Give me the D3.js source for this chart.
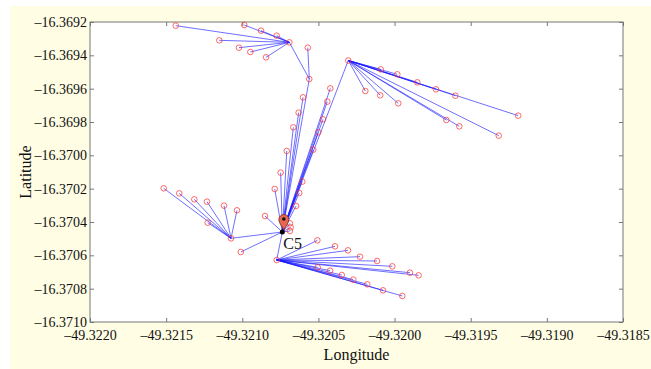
<!DOCTYPE html>
<html>
<head>
    <meta charset="utf-8">
    <script src="https://d3js.org/d3.v7.min.js"></script>
    <style>
        body { margin: 0; background: #ffffff; }
        text { font-family: "Liberation Serif", "Times New Roman", serif; fill: #111; }
    </style>
</head>
<body>
    <svg id="chart" width="651" height="369"></svg>
    <script>
        // ---- data (lon, lat) ----
        var c5 = [-49.320737, -16.370460];

        var hubA = [-49.320691, -16.369322];
        var leavesA = [
            [-49.321437, -16.369222], [-49.320987, -16.369218], [-49.320877, -16.369252],
            [-49.320774, -16.369282], [-49.321151, -16.369310], [-49.321022, -16.369354],
            [-49.320947, -16.369380], [-49.320844, -16.369412]
        ];
        var nodeE = [-49.320570, -16.369354];
        var nodeF = [-49.320560, -16.369542];
        var chainLeft = [
            [-49.320601, -16.369652], [-49.320630, -16.369744], [-49.320665, -16.369832],
            [-49.320708, -16.369974], [-49.320748, -16.370104], [-49.320787, -16.370202],
            [-49.320851, -16.370364]
        ];

        var hubB = [-49.320304, -16.369431];
        var leavesB = [
            [-49.320091, -16.369484], [-49.319982, -16.369514], [-49.319851, -16.369562],
            [-49.319728, -16.369604], [-49.319601, -16.369642], [-49.319188, -16.369762],
            [-49.320192, -16.369614], [-49.320094, -16.369640], [-49.319976, -16.369688],
            [-49.319660, -16.369788], [-49.319575, -16.369826], [-49.319316, -16.369882]
        ];
        var chainRight = [
            [-49.320422, -16.369598], [-49.320442, -16.369678], [-49.320470, -16.369784],
            [-49.320501, -16.369862], [-49.320534, -16.369966], [-49.320606, -16.370158],
            [-49.320626, -16.370226], [-49.320647, -16.370304]
        ];
        var nearC5 = [[-49.320687, -16.370408], [-49.320682, -16.370432], [-49.320687, -16.370454]];

        var hubC = [-49.321074, -16.370498];
        var leavesC = [
            [-49.321516, -16.370198], [-49.321414, -16.370228], [-49.321315, -16.370264],
            [-49.321232, -16.370278], [-49.321120, -16.370302], [-49.321035, -16.370330],
            [-49.321227, -16.370404]
        ];
        var nodeG = [-49.321010, -16.370580];

        var hubD = [-49.320774, -16.370628];
        var leavesD = [
            [-49.320507, -16.370510], [-49.320391, -16.370546], [-49.320306, -16.370570],
            [-49.320227, -16.370608], [-49.320115, -16.370634], [-49.320015, -16.370666],
            [-49.319899, -16.370704], [-49.319842, -16.370720], [-49.320505, -16.370672],
            [-49.320424, -16.370692], [-49.320347, -16.370718], [-49.320271, -16.370746],
            [-49.320179, -16.370774], [-49.320076, -16.370810], [-49.319949, -16.370844]
        ];

        var xTicks = [-49.3220, -49.3215, -49.3210, -49.3205, -49.3200, -49.3195, -49.3190, -49.3185];
        var yTicks = [-16.3710, -16.3708, -16.3706, -16.3704, -16.3702, -16.3700, -16.3698, -16.3696, -16.3694, -16.3692];

        // ---- edges ----
        var edges = [];
        leavesA.forEach(d => edges.push([d, hubA]));
        edges.push([hubA, nodeF], [nodeE, nodeF], [nodeF, c5]);
        chainLeft.forEach(d => edges.push([d, c5]));
        edges.push([hubB, c5]);
        leavesB.forEach(d => edges.push([d, hubB]));
        chainRight.forEach(d => edges.push([d, c5]));
        nearC5.forEach(d => edges.push([d, c5]));
        leavesC.forEach(d => edges.push([d, hubC]));
        edges.push([hubC, c5], [nodeG, c5]);
        leavesD.forEach(d => edges.push([d, hubD]));
        edges.push([hubD, c5]);

        var nodes = [].concat([hubA], leavesA, [nodeE, nodeF], chainLeft, [hubB], leavesB,
            chainRight, nearC5, [hubC], leavesC, [nodeG], [hubD], leavesD);

        // ---- layout ----
        var margin = { top: 22, right: 28, bottom: 47, left: 90 },
            width = 651 - margin.left - margin.right,
            height = 369 - margin.top - margin.bottom;

        var svg = d3.select("#chart");

        svg.append("rect")
            .attr("x", 10).attr("y", 6)
            .attr("width", 641).attr("height", 363)
            .attr("fill", "#fffde4");

        var g = svg.append("g")
            .attr("transform", "translate(" + margin.left + "," + margin.top + ")");

        g.append("rect")
            .attr("width", width).attr("height", height)
            .attr("fill", "#ffffff");

        var x = d3.scaleLinear().domain([-49.3220, -49.3185]).range([0, width]);
        var y = d3.scaleLinear().domain([-16.3710, -16.3692]).range([height, 0]);

        var fmt = v => d3.format(".4f")(v).replace("-", "\u2013").replace("\u2212", "\u2013");

        function styleAxis(sel, showText) {
            sel.select(".domain").remove();
            sel.selectAll("line").attr("stroke", "#777");
            sel.selectAll("text")
                .style("font-size", "14px")
                .style("font-family", "'Liberation Serif', serif")
                .attr("fill", "#111");
            if (!showText) sel.selectAll("text").remove();
        }

        g.append("g").attr("transform", "translate(0," + height + ")")
            .call(d3.axisBottom(x).tickValues(xTicks).tickFormat(fmt).tickSize(-4).tickPadding(8))
            .call(s => styleAxis(s, true));
        g.append("g")
            .call(d3.axisTop(x).tickValues(xTicks).tickSize(-4))
            .call(s => styleAxis(s, false));
        g.append("g")
            .call(d3.axisLeft(y).tickValues(yTicks).tickFormat(fmt).tickSize(-4).tickPadding(3))
            .call(s => styleAxis(s, true));
        g.append("g").attr("transform", "translate(" + width + ",0)")
            .call(d3.axisRight(y).tickValues(yTicks).tickSize(-4))
            .call(s => styleAxis(s, false));

        g.append("rect")
            .attr("width", width).attr("height", height)
            .attr("fill", "none").attr("stroke", "#777").attr("stroke-width", 1);

        // edges
        g.append("g").selectAll("line")
            .data(edges).enter().append("line")
            .attr("x1", d => x(d[0][0])).attr("y1", d => y(d[0][1]))
            .attr("x2", d => x(d[1][0])).attr("y2", d => y(d[1][1]))
            .attr("stroke", "#1a1aff").attr("stroke-width", 0.9).attr("stroke-opacity", 0.7);

        // nodes
        g.append("g").selectAll("circle")
            .data(nodes).enter().append("circle")
            .attr("cx", d => x(d[0])).attr("cy", d => y(d[1]))
            .attr("r", 2.8)
            .attr("fill", "none").attr("stroke", "#ff3030").attr("stroke-width", 0.9).attr("stroke-opacity", 0.8);

        // C5 marker
        var cx = x(c5[0]), cy = y(c5[1]);
        g.append("circle").attr("cx", cx).attr("cy", cy).attr("r", 2.5).attr("fill", "#000");
        var pin = g.append("g").attr("transform", "translate(" + (cx + 1.5) + "," + (cy - 2) + ")");
        pin.append("path")
            .attr("d", "M0,0 C-2,-4 -5,-7 -5,-10.5 A5,5 0 1,1 5,-10.5 C5,-7 2,-4 0,0 Z")
            .attr("fill", "#e5674f").attr("stroke", "#7a2a1a").attr("stroke-width", 0.8);
        pin.append("circle").attr("cx", 0).attr("cy", -11).attr("r", 1.8).attr("fill", "#111");
        g.append("text")
            .attr("x", cx + 1).attr("y", cy + 16.5)
            .style("font-size", "16px")
            .text("C5");

        // axis labels
        svg.append("text")
            .attr("x", margin.left + width / 2).attr("y", 360)
            .attr("text-anchor", "middle")
            .style("font-size", "16px")
            .text("Longitude");
        svg.append("text")
            .attr("transform", "translate(31," + (margin.top + height / 2) + ") rotate(-90)")
            .attr("text-anchor", "middle")
            .style("font-size", "16px")
            .text("Latitude");
    </script>
</body>
</html>
